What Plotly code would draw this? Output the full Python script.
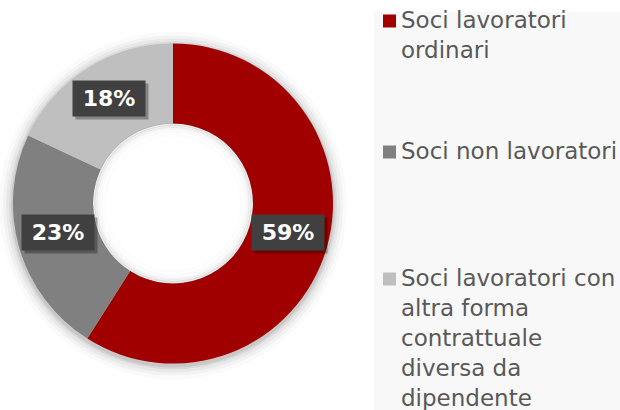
import math
import plotly.graph_objects as go

# ---- data ----
categories = ["Soci lavoratori ordinari", "Soci non lavoratori",
              "Soci lavoratori con altra forma contrattuale diversa da dipendente"]
legend_labels = ["Soci lavoratori<br>ordinari", "Soci non lavoratori",
                 "Soci lavoratori con<br>altra forma<br>contrattuale<br>diversa da<br>dipendente"]
values = [59, 23, 18]
colors = ["#A00000", "#808080", "#BFBFBF"]

W, H = 620, 410
CX, CY, R = 173, 203.5, 160
HOLE = 0.5

def px(x):
    return x / W

def py(y):
    return 1 - y / H

fig = go.Figure()
fig.add_trace(go.Pie(
    labels=categories, values=values, hole=HOLE, sort=False,
    direction="clockwise", rotation=0,
    marker=dict(colors=colors, line=dict(width=0)),
    textinfo="none", hoverinfo="label+percent", showlegend=False,
    domain=dict(x=[px(CX - R), px(CX + R)], y=[py(CY + R), py(CY - R)]),
))

shapes = []
# legend panel background
shapes.append(dict(type="rect", xref="paper", yref="paper",
                   x0=px(374), x1=1, y0=0, y1=py(12),
                   fillcolor="#F8F8F8", line=dict(width=0), layer="below"))
# soft outer shadow of the donut
for k, a in [(14, 0.02), (10, 0.03), (7, 0.04), (4, 0.06), (2, 0.08)]:
    shapes.append(dict(type="circle", xref="paper", yref="paper",
                       x0=px(CX - R - k), x1=px(CX + R + k),
                       y0=py(CY + R + k + 2), y1=py(CY - R - k + 2),
                       fillcolor="rgba(0,0,0,%s)" % a, line=dict(width=0),
                       layer="below"))
rin = R * HOLE
# keep the hole white
shapes.append(dict(type="circle", xref="paper", yref="paper",
                   x0=px(CX - rin), x1=px(CX + rin),
                   y0=py(CY + rin), y1=py(CY - rin),
                   fillcolor="white", line=dict(width=0), layer="below"))
# inner shadow in the hole
for k, a in [(1, 0.08), (3, 0.05), (5, 0.035), (8, 0.02), (12, 0.012)]:
    shapes.append(dict(type="circle", xref="paper", yref="paper",
                       x0=px(CX - rin + k), x1=px(CX + rin - k),
                       y0=py(CY + rin - k), y1=py(CY - rin + k),
                       fillcolor="rgba(0,0,0,0)",
                       line=dict(width=3, color="rgba(0,0,0,%s)" % a),
                       layer="above"))

annotations = []
# data labels
total = sum(values)
cum = 0
rmid = R * (1 + HOLE) / 2
for v in values:
    mid = (cum + v / 2) / total * 2 * math.pi
    cum += v
    lx = CX + rmid * math.sin(mid)
    ly = CY - rmid * math.cos(mid)
    pct = "%d%%" % round(v / total * 100)
    # shadow box
    annotations.append(dict(x=px(lx), y=py(ly), xref="paper", yref="paper",
                            xanchor="center", yanchor="middle",
                            text=" ", showarrow=False, width=70, height=33,
                            bgcolor="rgba(0,0,0,0.3)", xshift=3, yshift=1,
                            font=dict(size=21)))
    annotations.append(dict(x=px(lx), y=py(ly), xref="paper", yref="paper",
                            xanchor="center", yanchor="middle",
                            text="<b>%s</b>" % pct, showarrow=False,
                            width=70, height=33, bgcolor="#404040",
                            yshift=4,
                            font=dict(family="DejaVu Sans", size=22, color="white")))

# custom legend
legend_tops = [6, 137, 264]
for lab, col, top in zip(legend_labels, colors, legend_tops):
    c = top + 15
    shapes.append(dict(type="rect", xref="paper", yref="paper",
                       x0=px(383), x1=px(396), y0=py(c + 6.5), y1=py(c - 6.5),
                       fillcolor=col, line=dict(width=0)))
    annotations.append(dict(x=px(400), y=py(top), xref="paper", yref="paper",
                            xanchor="left", yanchor="top", align="left",
                            text=lab, showarrow=False, borderpad=0,
                            font=dict(family="DejaVu Sans", size=23, color="#595959")))

fig.update_layout(
    width=W, height=H, margin=dict(l=0, r=0, t=0, b=0),
    paper_bgcolor="white", plot_bgcolor="white",
    shapes=shapes, annotations=annotations, showlegend=False,
)
fig.write_html("out.html", config={"displayModeBar": False},
               post_script="document.body.style.margin='0px';document.body.style.overflow='hidden';")
